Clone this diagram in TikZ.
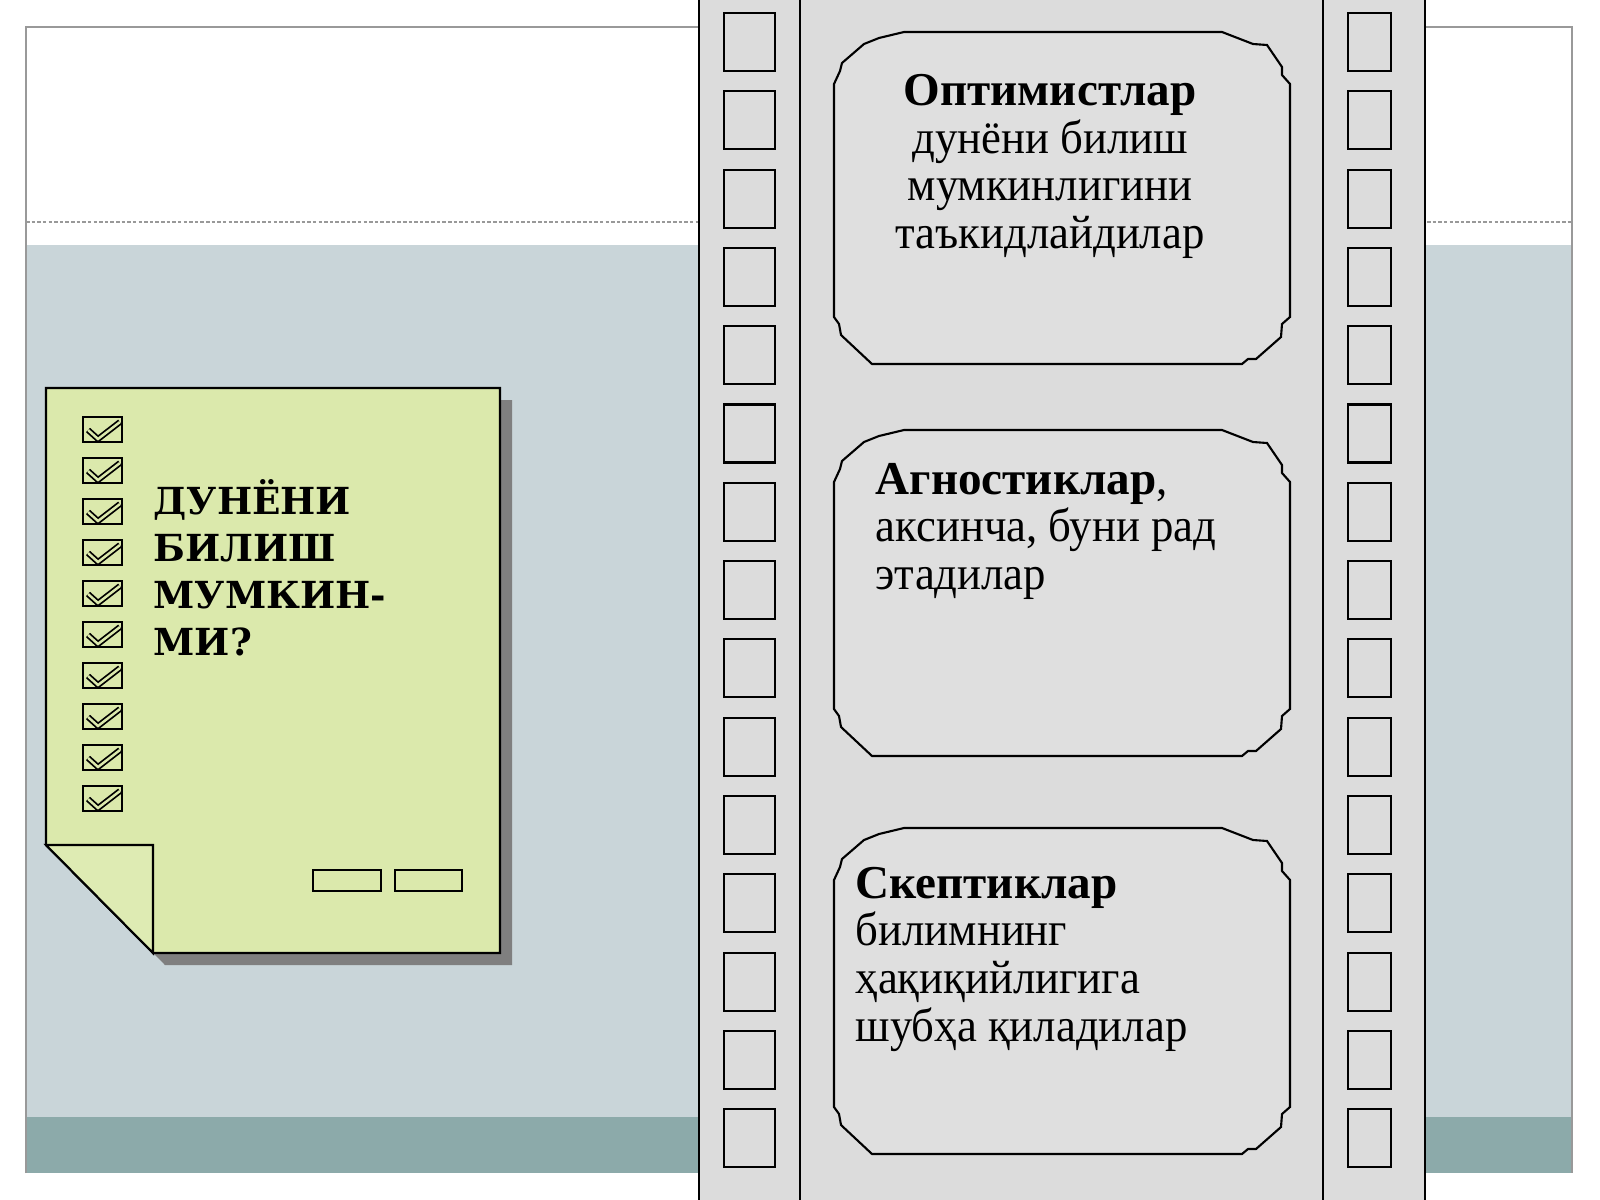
\documentclass[tikz,border=0pt]{standalone}
\usepackage{fontspec}
\setmainfont{Liberation Serif}[UprightFeatures={FakeStretch=0.95}]
\newfontfamily\notefont[LetterSpace=0]{DejaVu Serif}

\definecolor{slideblue}{HTML}{C9D5D9}
\definecolor{slideteal}{HTML}{8CAAAA}
\definecolor{slideline}{HTML}{999999}
\definecolor{notegreen}{HTML}{DBE9AC}
\definecolor{notefold}{HTML}{DEEBB3}
\definecolor{noteshadow}{HTML}{7F7F7F}
\definecolor{filmgrey}{HTML}{DCDCDC}
\definecolor{panelgrey}{HTML}{DFDFDF}

\newcommand{\plaque}[4]{%
  \draw[panel] (#1,#2+52) -- (#1+6,#2+39) -- (#1+8,#2+31) -- (#1+30,#2+12) -- (#1+45,#2+6) -- (#1+70,#2)
    -- (#3-68,#2) -- (#3-37,#2+12) -- (#3-23,#2+13) -- (#3-8,#2+35) -- (#3-8,#2+43) -- (#3,#2+52)
    -- (#3,#4-47) -- (#3-8,#4-40) -- (#3-9,#4-27) -- (#3-34,#4-5) -- (#3-42,#4-5) -- (#3-48,#4)
    -- (#1+38,#4) -- (#1+7,#4-29) -- (#1+5,#4-40) -- (#1,#4-47) -- cycle;}

\begin{document}
\begin{tikzpicture}[x=0.01cm,y=-0.01cm]

  \tikzset{panel/.style = {draw, line width=0.6pt, fill=panelgrey}}
  \tikzset{hole/.style = {draw, line width=0.6pt, fill=filmgrey}}
  \tikzset{filmtext/.style = {inner sep=0, anchor=base west, font=\fontsize{13.4}{16}\selectfont}}
  \tikzset{notetext/.style = {inner sep=0, anchor=base west, font=\notefont\bfseries\fontsize{10.6}{13}\selectfont}}

  \useasboundingbox (0,0) rectangle (1600,1200);
  \fill[white] (0,0) rectangle (1600,1200);

  % slide
  \fill[slideblue] (26,245) rectangle (1572,1117);
  \fill[slideteal] (26,1117) rectangle (1572,1173);
  \draw[slideline, line width=0.5pt] (26,1173) -- (26,27) -- (1572,27) -- (1572,1173);
  \draw[slideline, line width=0.4pt, dash pattern=on 1pt off 0.6pt] (26,222) -- (1572,222);

  % note
  \fill[noteshadow] (58,400) -- (512,400) -- (512,965) -- (165,965) -- (58,857) -- cycle;
  \draw[line width=0.6pt, fill=notegreen] (46,388) -- (500,388) -- (500,953) -- (153,953) -- (46,845) -- cycle;
  \draw[line width=0.6pt, fill=notefold] (46,845) -- (153,845) -- (153,953) -- cycle;
  \foreach \i in {0,...,9}{
    \begin{scope}[shift={(83,417+41*\i)}]
      \draw[line width=0.6pt] (0,0) rectangle (39,25);
      \draw[line width=1.7pt] (5,13) -- (15,22) -- (37,5);
      \draw[line width=0.7pt, notegreen] (5,13) -- (15,22) -- (37,5);
    \end{scope}}
  \draw[line width=0.6pt] (313,870) rectangle (381,891);
  \draw[line width=0.6pt] (395,870) rectangle (462,891);
  \node[notetext] (q1) at (153,514) {ДУНЁНИ};
  \node[notetext] (q2) at (153,561) {БИЛИШ};
  \node[notetext] (q3) at (153,608) {МУМКИН-};
  \node[notetext] (q4) at (153,655) {МИ?};

  % film
  \draw[line width=0.6pt, fill=filmgrey] (699,-5) rectangle (1425,1205);
  \draw[line width=0.6pt] (800,-5) -- (800,1205);
  \draw[line width=0.6pt] (1323,-5) -- (1323,1205);
  \foreach \i in {0,...,14}{
    \draw[hole] (724,13+78.3*\i) rectangle +(51,58);
    \draw[hole] (1348,13+78.3*\i) rectangle +(43,58);
  }

  \plaque{834}{32}{1290}{364}
  \plaque{834}{430}{1290}{756}
  \plaque{834}{828}{1290}{1154}

  \node[filmtext, anchor=base] (o1) at (1050,105) {\bfseries Оптимистлар};
  \node[filmtext, anchor=base] (o2) at (1050,153) {дунёни билиш};
  \node[filmtext, anchor=base] (o3) at (1050,200) {мумкинлигини};
  \node[filmtext, anchor=base] (o4) at (1050,248) {таъкидлайдилар};

  \node[filmtext] (a1) at (875,494) {\textbf{Агностиклар},};
  \node[filmtext] (a2) at (875,541) {аксинча, буни рад};
  \node[filmtext] (a3) at (875,589) {этадилар};

  \node[filmtext] (s1) at (855,898) {\bfseries Скептиклар};
  \node[filmtext] (s2) at (855,945) {билимнинг};
  \node[filmtext] (s3) at (855,993) {ҳақиқийлигига};
  \node[filmtext] (s4) at (855,1041) {шубҳа қиладилар};

\end{tikzpicture}
\end{document}
